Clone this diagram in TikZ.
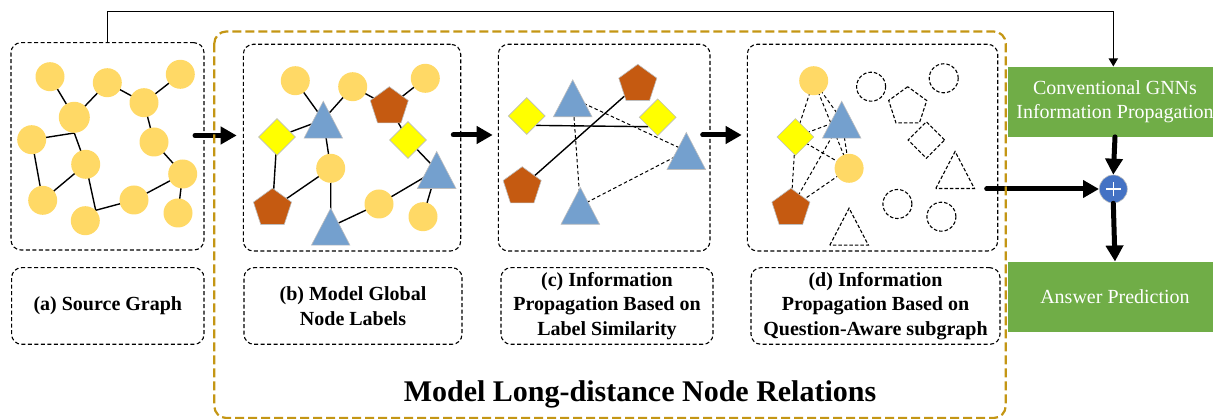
\documentclass[tikz,border=0pt]{standalone}
\usepackage{fontspec}
\setmainfont{Liberation Serif}
\usetikzlibrary{shapes.geometric,arrows.meta,backgrounds}
\definecolor{circY}{RGB}{255,217,102}
\definecolor{pentC}{RGB}{197,90,17}
\definecolor{triB}{RGB}{116,160,206}
\definecolor{diaY}{RGB}{255,255,0}
\definecolor{shapeB}{RGB}{190,190,190}
\definecolor{goldC}{RGB}{196,150,20}
\definecolor{greenC}{RGB}{112,173,71}
\definecolor{plusC}{RGB}{68,114,196}
\newcommand{\mytri}[3]{\coordinate (#1) at (#2);
  \path[#3,shift={(#1)}] (-19.3,18.5) -- (0,-18.5) -- (19.3,18.5) -- cycle;}
\begin{document}
\begin{tikzpicture}[x=1pt,y=-1pt,
  ycirc/.style={circle,fill=circY,inner sep=0,minimum size=29},
  pent/.style={regular polygon,regular polygon sides=5,fill=pentC,draw=shapeB,line width=0.6,inner sep=0,minimum size=40},
  dia/.style={diamond,fill=diaY,draw=shapeB,line width=0.6,inner sep=0,minimum size=37},
  tri/.style={fill=triB,draw=shapeB,line width=0.6},
  ecirc/.style={circle,draw=black,fill=white,dash pattern=on 3.5 off 2,line width=1.1,inner sep=0,minimum size=29},
  epent/.style={regular polygon,regular polygon sides=5,draw=black,fill=white,dash pattern=on 3.5 off 2,line width=1.1,inner sep=0,minimum size=40},
  edia/.style={diamond,draw=black,fill=white,dash pattern=on 3.5 off 2,line width=1.1,inner sep=0,minimum size=37},
  etri/.style={draw=black,fill=white,dash pattern=on 3.5 off 2,line width=1.1},
  sedge/.style={draw=black,line width=1.4},
  dedge/.style={draw=black,line width=1.0,dash pattern=on 3.5 off 2.5},
  gbox/.style={draw=black,line width=1.1,dash pattern=on 4 off 2.5,rounded corners=10,inner sep=0},
  lbl/.style={gbox,align=center,font=\bfseries\fontsize{20}{24.5}\selectfont},
  green/.style={fill=greenC,inner sep=0,minimum width=214,minimum height=70,text=white,align=center,font=\fontsize{20}{24.5}\selectfont},
  bigarrow/.style={line width=5,line cap=round,-{Triangle[length=16,width=17]}},
  thinarrow/.style={line width=1.6,-{Triangle[length=8,width=9]}}
]
\useasboundingbox (0,0) rectangle (1213,419);

% frames
\node[gbox,minimum width=193,minimum height=207.3] (ga) at (107.5,146.35) {};
\node[gbox,minimum width=217.4,minimum height=206.7] (gb) at (352,147.65) {};
\node[gbox,minimum width=211.7,minimum height=206.7] (gc) at (604.15,147.65) {};
\node[gbox,minimum width=250.4,minimum height=206.7] (gd) at (872.5,147.65) {};

\node[lbl,minimum width=192.4,minimum height=76.6] (la) at (107.8,306) {(a) Source Graph};
\node[lbl,minimum width=218,minimum height=76.6] (lb) at (353,306) {(b) Model Global\\Node Labels};
\node[lbl,minimum width=212,minimum height=76.6] (lc) at (607,306) {(c) Information\\Propagation Based on\\Label Similarity};
\node[lbl,minimum width=249,minimum height=76.6] (ld) at (875.5,306) {(d) Information\\Propagation Based on\\Question-Aware subgraph};

% panel (a)
\node[ycirc] (A1) at (50,76.7) {};
\node[ycirc] (A2) at (107.3,82.7) {};
\node[ycirc] (A3) at (180.3,74.3) {};
\node[ycirc,minimum size=31] (A4) at (74.3,117.3) {};
\node[ycirc] (A5) at (144,102.7) {};
\node[ycirc] (A6) at (31.7,139.7) {};
\node[ycirc] (A7) at (154,142) {};
\node[ycirc] (A8) at (85.7,164.3) {};
\node[ycirc] (A9) at (182.7,174) {};
\node[ycirc] (A10) at (42.7,200.3) {};
\node[ycirc] (A11) at (134,200) {};
\node[ycirc] (A12) at (85.3,220.7) {};
\node[ycirc] (A13) at (178,213) {};

% panel (b)
\node[ycirc] (B1) at (295.3,80.7) {};
\node[ycirc] (B2) at (352.7,86.7) {};
\node[ycirc] (B3) at (425.3,78.3) {};
\node[ycirc] (B4) at (330.7,168.3) {};
\node[ycirc] (B5) at (379,204) {};
\node[ycirc] (B6) at (423,216.7) {};
\node[pent] (P1) at (389.3,106.7) {};
\node[pent] (P2) at (272.5,208.3) {};
\node[dia] (D1) at (277,137) {};
\node[dia] (D2) at (408,140) {};
\mytri{T1}{323.3,119.7}{tri}
\mytri{T2}{436.7,170}{tri}
\mytri{T3}{330.7,226.7}{tri}

% panel (c)
\node[pent] (P3) at (637.8,84.3) {};
\node[pent] (P4) at (522.2,186.7) {};
\node[dia] (D3) at (526.7,116) {};
\node[dia] (D4) at (657.7,117.3) {};
\mytri{T4}{572.7,98.3}{tri}
\mytri{T5}{686.3,151}{tri}
\mytri{T6}{580.3,205.8}{tri}

% panel (d)
\node[ycirc] (C1) at (813.7,80.7) {};
\node[ycirc] (C2) at (849.1,168.3) {};
\node[pent] (P5) at (790.9,208.3) {};
\node[dia] (D5) at (795.4,137) {};
\mytri{T7}{841.7,119.7}{tri}
\node[ecirc] (E1) at (871.1,86.7) {};
\node[ecirc] (E2) at (943.7,78.3) {};
\node[epent] (E3) at (907.7,106.7) {};
\node[edia] (E4) at (926.4,140) {};
\mytri{E5}{955.1,170}{etri}
\node[ecirc] (E6) at (897.4,204) {};
\node[ecirc] (E7) at (941.4,216.7) {};
\mytri{E8}{849.1,226.7}{etri}

\begin{pgfonlayer}{background}
  % (a)
  \draw[sedge] (A1.center) -- (A4.center) -- (A2.center) -- (A5.center) -- (A3.center);
  \draw[sedge] (A5.center) -- (A7.center) -- (A9.center) -- (A13.center);
  \draw[sedge] (A9.center) -- (A11.center) -- (A12.45) -- (A8.center);
  \draw[sedge] (A6.center) -- (A4.south) -- (A8.center);
  \draw[sedge] (A6.center) -- (A10.center) -- (A8.center);
  % (b)
  \draw[sedge] (B1.center) -- (T1) -- (B2.center) -- (P1.center) -- (B3.center);
  \draw[sedge] (D1.center) -- (T1) -- (B4.center) -- (P2.center) -- (D1.center);
  \draw[sedge] (B4.center) -- (T3) -- (B5.center) -- (T2) -- (B6.center);
  \draw[sedge] (P1.center) -- (D2.center) -- (T2);
  % (c)
  \draw[sedge] (D3.south east) -- (D4.south west);
  \draw[sedge] (P4.center) -- (P3.center);
  \draw[dedge] (T4) -- (T5) -- (T6) -- (T4);
  % (d)
  \draw[dedge] (C1.center) -- (D5.center);
  \draw[dedge] (C1.center) -- (T7);
  \draw[dedge] (C1.center) -- (C2.center);
  \draw[dedge] (D5.center) -- (T7);
  \draw[dedge] (D5.center) -- (C2.center);
  \draw[dedge] (D5.center) -- (P5.center);
  \draw[dedge] (T7) -- (P5.center);
  \draw[dedge] (T7) -- (C2.center);
  \draw[dedge] (C2.center) -- (P5.center);
\end{pgfonlayer}

% right side
\node[green] (conv) at (1115,101.7) {Conventional GNNs\\Information Propagation};
\node[green] (ans) at (1115,296.7) {Answer Prediction};
\node[circle,fill=plusC,draw=shapeB,line width=0.6,minimum size=28,inner sep=0] (plus) at (1113.3,189) {};
\draw[white,line width=1.3] ([xshift=-7.3]plus.center) -- ([xshift=7.3]plus.center);
\draw[white,line width=1.3] ([yshift=-7.3]plus.center) -- ([yshift=7.3]plus.center);

% arrows
\coordinate (ab1) at (195,135.5);
\coordinate (ab2) at (236.7,135.5);
\coordinate (bc1) at (453.3,135);
\coordinate (bc2) at (492.7,135);
\coordinate (cd1) at (702.7,135);
\coordinate (cd2) at (741.7,135);
\coordinate (dp1) at (986.7,189);
\draw[bigarrow] (ab1) -- (ab2);
\draw[bigarrow] (bc1) -- (bc2);
\draw[bigarrow] (cd1) -- (cd2);
\draw[bigarrow] (dp1) -- (plus.west);
\draw[bigarrow] (conv.south) -- (plus.north);
\draw[bigarrow] (plus.south) -- (ans.north);
\draw[thinarrow] (ga.north) -- ++(0,-30.7) -| (plus.center |- conv.north);

% gold frame
\draw[goldC,line width=2.2,dash pattern=on 9 off 4,rounded corners=12] (214.3,31.5) rectangle (1005.7,418);
\node[font=\bfseries\fontsize{30}{36}\selectfont] (title) at (640,394) {Model Long-distance Node Relations};
\end{tikzpicture}
\end{document}
